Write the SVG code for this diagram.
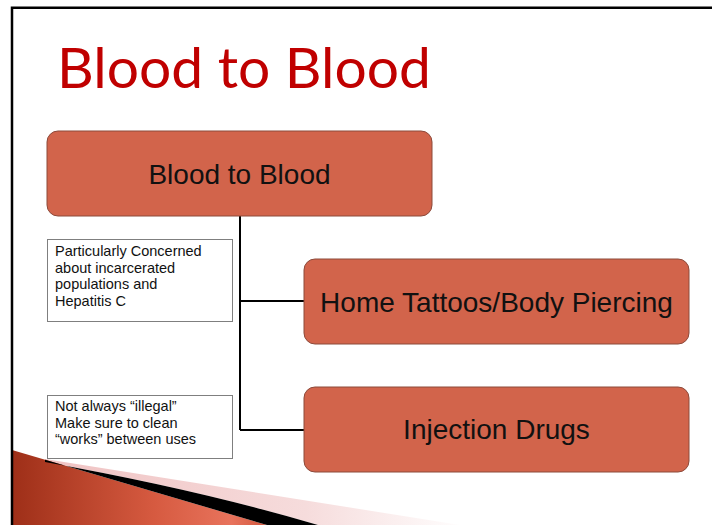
<svg xmlns="http://www.w3.org/2000/svg" width="712" height="525" viewBox="0 0 712 525">
<style>
.box{fill:#D2644B;stroke:#8c4a3b;stroke-width:1}
.note{fill:#ffffff;stroke:#7f7f7f;stroke-width:1}
.bt{font-family:"Liberation Sans",Arial,sans-serif;font-size:28px;fill:#111111;text-anchor:middle}
.nt{font-family:"Liberation Sans",Arial,sans-serif;font-size:14.5px;fill:#111111}
.conn{stroke:#000000;stroke-width:2;fill:none}
</style>
<defs>
<linearGradient id="red" x1="12" y1="0" x2="270" y2="0" gradientUnits="userSpaceOnUse">
<stop offset="0" stop-color="#9e2f18"/>
<stop offset="0.55" stop-color="#d65a40"/>
<stop offset="0.85" stop-color="#e8735c"/>
<stop offset="1" stop-color="#d0553c"/>
</linearGradient>
<linearGradient id="pink" x1="60" y1="0" x2="470" y2="0" gradientUnits="userSpaceOnUse">
<stop offset="0" stop-color="#f0c4c4"/>
<stop offset="0.6" stop-color="#f6dcdc"/>
<stop offset="1" stop-color="#ffffff"/>
</linearGradient>
</defs>
<rect width="712" height="525" fill="#ffffff"/>
<g id="decoration">
<path d="M45 459 L460 525 L318 525 Q200 490 45 462 Z" fill="url(#pink)"/>
<path d="M12 450 L267 525 L12 525 Z" fill="url(#red)"/>
<path d="M45 462 Q200 490 318 525 L267 525 L45 459.7 Z" fill="#000000"/>
</g>
<path id="frame" d="M12 525 V7.7 H712" fill="none" stroke="#000000" stroke-width="2.5"/>
<text id="title" x="57" y="88" font-family="Lato,'Open Sans',sans-serif" font-size="56" fill="#C00000" textLength="374" lengthAdjust="spacingAndGlyphs">Blood to Blood</text>
<g id="connectors">
<path class="conn" d="M240 216 V430 M240 301 H304 M240 430 H304"/>
</g>
<g id="node-root">
<rect class="box" x="47" y="131" width="385" height="85" rx="11"/>
<text class="bt" x="239.5" y="183.5">Blood to Blood</text>
</g>
<g id="node-tattoos">
<rect class="box" x="304" y="259" width="385" height="85" rx="11"/>
<text class="bt" x="496.5" y="312">Home Tattoos/Body Piercing</text>
</g>
<g id="node-injection">
<rect class="box" x="304" y="387" width="385" height="85" rx="11"/>
<text class="bt" x="496.5" y="439">Injection Drugs</text>
</g>
<g id="note-1">
<rect class="note" x="47.5" y="239.5" width="185" height="82"/>
<text class="nt"><tspan x="55" y="256">Particularly Concerned</tspan><tspan x="55" y="272.5">about incarcerated</tspan><tspan x="55" y="289">populations and</tspan><tspan x="55" y="305.5">Hepatitis C</tspan></text>
</g>
<g id="note-2">
<rect class="note" x="47.5" y="395.5" width="185" height="63"/>
<text class="nt"><tspan x="55" y="411">Not always “illegal”</tspan><tspan x="55" y="427.5">Make sure to clean</tspan><tspan x="55" y="444">“works” between uses</tspan></text>
</g>
</svg>
